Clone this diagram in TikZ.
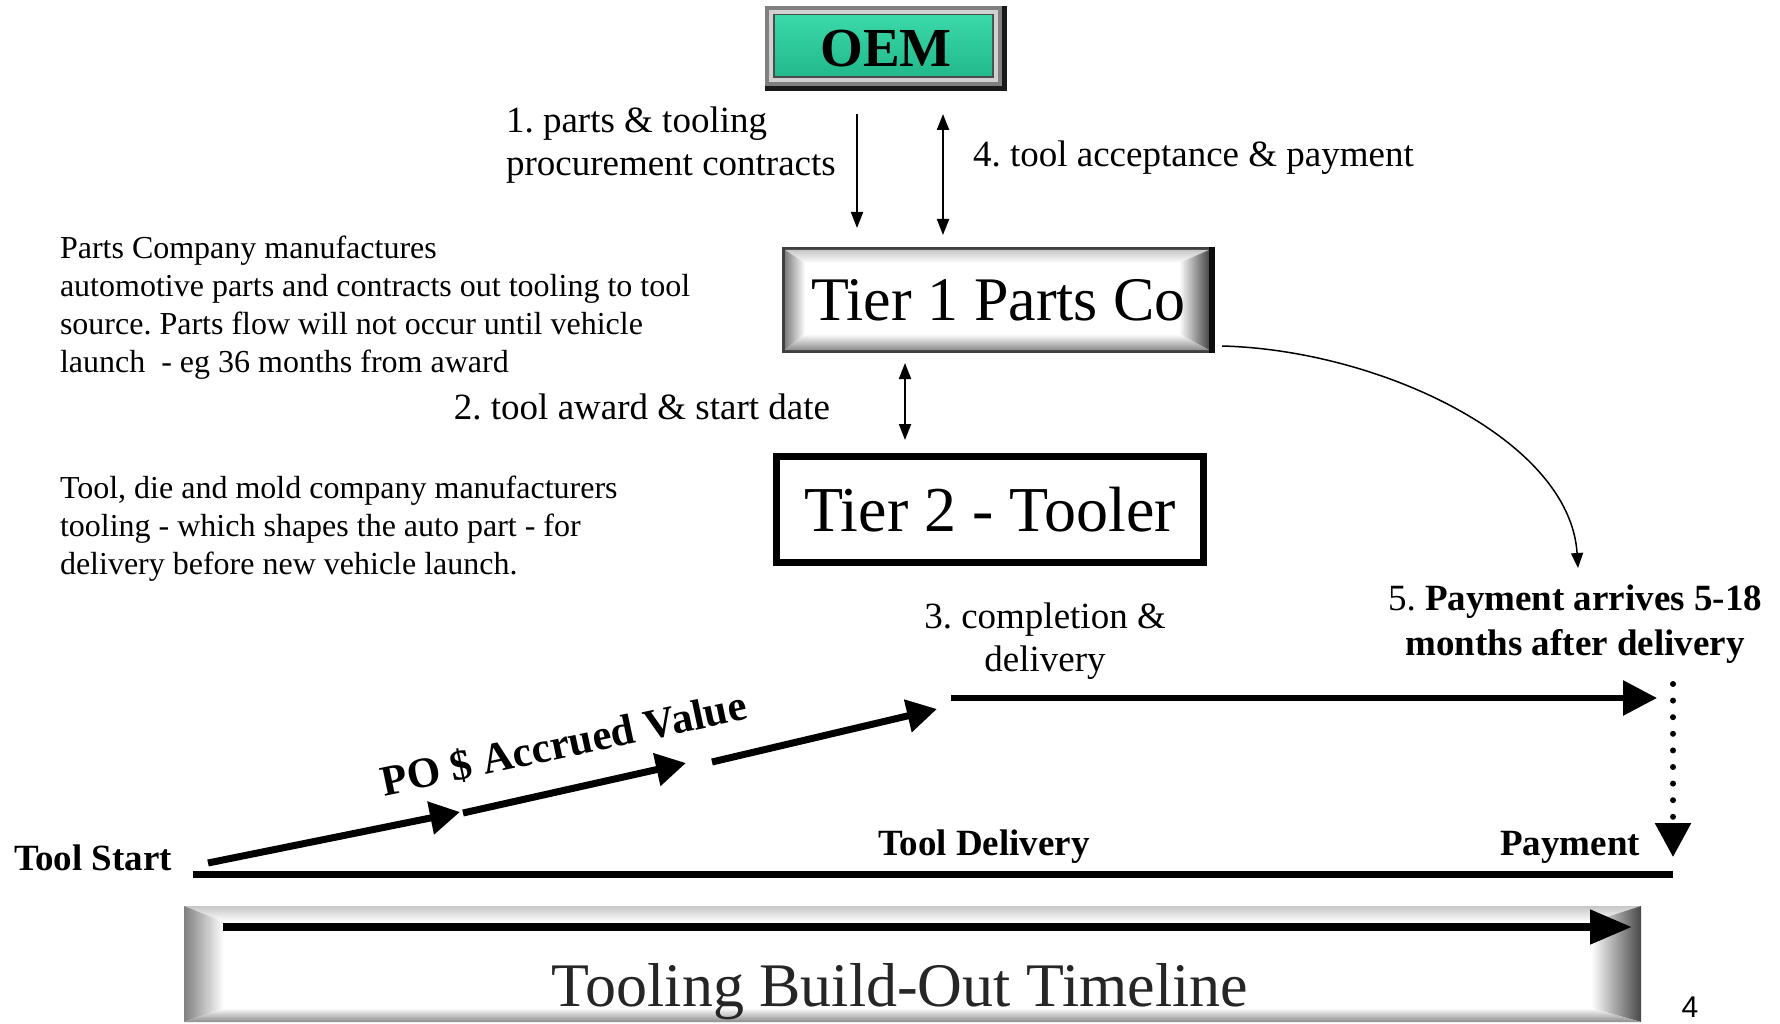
\documentclass[tikz,border=0pt]{standalone}
\usepackage{fontspec}
\setmainfont{Liberation Serif}
\newfontfamily\pnfont{Liberation Sans}
\usetikzlibrary{arrows.meta,calc}
\frenchspacing
\definecolor{oemgreen}{HTML}{22B98C}
\definecolor{oemlight}{HTML}{3AD8AA}
\newcommand\bevbox[8]{%
  \fill[white] (#1,#2) rectangle (#3,#4);
  \shade[top color=black!22, bottom color=white] (#1,#2) -- (#3,#2) -- ({#3-#7},{#2+#6}) -- ({#1+#5},{#2+#6}) -- cycle;
  \shade[left color=black!50, right color=white] (#1,#2) -- ({#1+#5},{#2+#6}) -- ({#1+#5},{#4-#8}) -- (#1,#4) -- cycle;
  \shade[left color=white, right color=black!72] (#3,#2) -- ({#3-#7},{#2+#6}) -- ({#3-#7},{#4-#8}) -- (#3,#4) -- cycle;
  \shade[top color=white, bottom color=black!45] (#1,#4) -- ({#1+#5},{#4-#8}) -- ({#3-#7},{#4-#8}) -- (#3,#4) -- cycle;
}
\begin{document}
\begin{tikzpicture}[x=1pt,y=-1pt,
  thinarrow/.style={line width=2pt,-{Triangle[length=16pt,width=12pt]}},
  thindbl/.style={line width=2pt,{Triangle[length=16pt,width=12pt]}-{Triangle[length=16pt,width=12pt]}},
  curvearrow/.style={line width=1.5pt,-{Triangle[length=15pt,width=12pt]}},
  slopearrow/.style={line width=7pt,-{Triangle[length=30pt,width=32pt]}},
  bigarrow/.style={line width=6pt,-{Triangle[length=34pt,width=34pt]}},
  lbl/.style={font=\fontsize{37pt}{43pt}\selectfont, inner sep=0pt, outer sep=0pt},
  desc/.style={font=\fontsize{32pt}{38pt}\selectfont, inner sep=0pt, outer sep=0pt, align=left},
  tl/.style={font=\fontsize{37pt}{43pt}\selectfont\bfseries, inner sep=0pt, outer sep=0pt}]

\useasboundingbox[fill=white] (0,0) rectangle (1780,1024);

% ---------- OEM box ----------
\fill[black!90] (765,6) rectangle (1007,91);
\fill[black!50] (765,6) rectangle (1002,86);
\fill[black!18] (769,10) rectangle (998,82);
\fill[black!70] (773,14) rectangle (994,78);
\shade[top color=oemlight, bottom color=oemgreen] (775,16) rectangle (992,76);
\node[font=\fontsize{55pt}{60pt}\selectfont\bfseries, inner sep=0pt, outer sep=0pt,
      minimum width=242pt, minimum height=85pt] (OEM) at (886,48.5) {OEM};

% ---------- Tier 1 box ----------
\fill[black!75] (782,247) rectangle (1215,353);
\bevbox{785}{250}{1209}{350}{20}{13}{30}{16}
\fill[black!95] (1209,247) rectangle (1215,353);
\node[font=\fontsize{62pt}{68pt}\selectfont, inner sep=0pt, outer sep=0pt,
      minimum width=433pt, minimum height=106pt] (T1) at (998.5,300) {Tier 1 Parts Co};

% ---------- Tier 2 box ----------
\node[draw, line width=7pt, minimum width=427pt, minimum height=106pt, inner sep=0pt,
      font=\fontsize{64pt}{70pt}\selectfont] (T2) at (990,509.5) {Tier 2 - Tooler};

% ---------- arrows between boxes ----------
\coordinate (a1x) at (857,0);
\coordinate (a4x) at (943,0);
\coordinate (a2x) at (905,0);
\draw[thinarrow] ($(OEM.south -| a1x)+(0,23)$) -- ($(T1.north -| a1x)+(0,-19)$);
\draw[thindbl] ($(OEM.south -| a4x)+(0,23)$) -- ($(T1.north -| a4x)+(0,-12)$);
\draw[thindbl] ($(T1.south -| a2x)+(0,10)$) -- ($(T2.north -| a2x)+(0,-13)$);

% ---------- labels ----------
\node[lbl, align=left, anchor=north west] (L1) at (506,107) {1. parts \& tooling\\procurement contracts};
\node[lbl, anchor=base west] (L4) at (973,167) {4. tool acceptance \& payment};
\node[lbl, anchor=base east] (L2) at (830,419) {2. tool award \& start date};
\node[desc, anchor=north west] (D1) at (60,236) {Parts Company manufactures\\automotive parts and contracts out tooling to tool\\source. Parts flow will not occur until vehicle\\launch\ \ - eg 36 months from award};
\node[desc, anchor=north west] (D2) at (60,476) {Tool, die and mold company manufacturers\\tooling - which shapes the auto part - for\\delivery before new vehicle launch.};
\node[lbl, align=center, anchor=north] (L3) at (1045,603) {3. completion \&\\delivery};
\node[lbl, align=center, anchor=north, font=\fontsize{37pt}{45pt}\selectfont] (P5) at (1575,585) {5. \textbf{Payment arrives 5-18}\\\textbf{months after delivery}};

% ---------- curved arrow ----------
\coordinate (p5) at (1578,568);
\draw[curvearrow] ($(T1.south east)+(7,-7)$) .. controls (1380,350) and (1570,440) .. (p5);

% ---------- delivery -> payment ----------
\coordinate (dstart) at (951,698);
\coordinate (dend) at (1657,698);
\draw[bigarrow] (dstart) -- (dend);
\coordinate (dtop) at (1673,684);
\coordinate (dbot) at (1673,857);
\draw[line width=6pt, line cap=round, dash pattern=on 0pt off 16.6pt,
      -{Triangle[length=34pt,width=35pt]}] (dtop) -- (dbot);

% ---------- accrued value arrows ----------
\coordinate (s0) at (208,863);
\coordinate (s1) at (460,812);
\coordinate (s2) at (463,813);
\coordinate (s3) at (686,763);
\coordinate (s4) at (712,762);
\coordinate (s5) at (937,709);
\draw[slopearrow] (s0) -- (s1);
\draw[slopearrow] (s2) -- (s3);
\draw[slopearrow] (s4) -- (s5);
\node[font=\fontsize{43pt}{48pt}\selectfont\bfseries, inner sep=0pt, rotate=12] (PO) at (564,744) {PO \$ Accrued Value};

% ---------- timeline ----------
\coordinate (tl0) at (193,874);
\coordinate (tl1) at (1673,874);
\draw[line width=7pt] (tl0) -- (tl1);
\node[tl, anchor=base west] (TS) at (14,870) {Tool Start};
\node[tl, anchor=base] (TD) at (984,855) {Tool Delivery};
\node[tl, anchor=base] (TP) at (1570,855) {Payment};

% ---------- bottom banner ----------
\bevbox{184}{906}{1641}{1022}{40}{16}{50}{14}
\coordinate (b0) at (223,927);
\coordinate (b1) at (1632,927);
\draw[line width=8pt, -{Triangle[length=42pt,width=33pt]}] (b0) -- (b1);
\node[font=\fontsize{62pt}{68pt}\selectfont, text=black!85, inner sep=0pt, anchor=base] (TB) at (900,1006) {Tooling Build-Out Timeline};
\node[font=\pnfont\fontsize{30pt}{34pt}\selectfont, inner sep=0pt, anchor=base] (PN) at (1690,1017) {4};
\end{tikzpicture}
\end{document}
